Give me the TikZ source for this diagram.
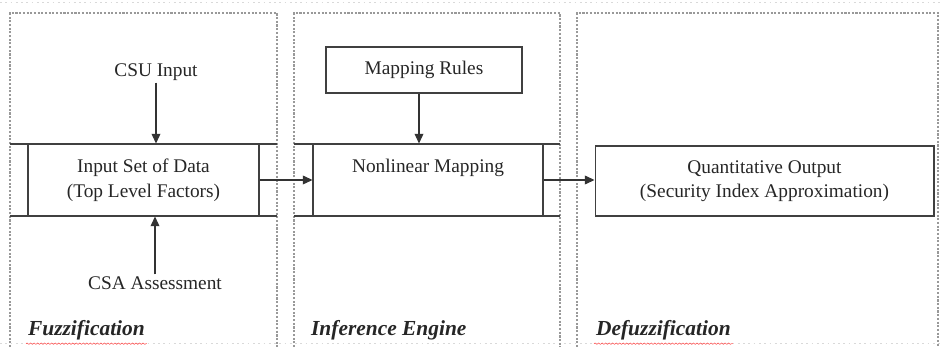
\documentclass[tikz,border=0pt]{standalone}
\usepackage{fontspec}
\setmainfont{Liberation Serif}
\usepackage{tikz}
\usetikzlibrary{arrows.meta, decorations.pathmorphing}
\tikzset{
  panel/.style = {gray!80, line width=0.7pt, dash pattern=on 1.2pt off 0.9pt},
  faint/.style = {gray!30, line width=0.5pt, dash pattern=on 1pt off 2pt},
  flow/.style = {draw=black!80, line width=0.6pt, -{Triangle[length=5.5pt, width=5pt]}},
  procbox/.style = {draw=black!75, line width=0.6pt, rectangle, align=center, inner sep=0pt},
  plain/.style = {align=center, inner sep=1pt},
  stage/.style = {anchor=west, inner sep=1pt, font=\fontsize{12.2}{14}\selectfont\bfseries\itshape},
  squiggle/.style = {red!70, line width=0.3pt, decorate, decoration={snake, amplitude=0.4pt, segment length=2pt}}
}

\begin{document}
\begin{tikzpicture}[x=0.02cm, y=-0.02cm, font=\fontsize{11}{14}\selectfont, text=black!85]
\useasboundingbox (0,0) rectangle (940,347);

% panels
\draw[faint] (0,2) -- (940,2);
\draw[faint] (0,343) -- (940,343);
\draw[panel] (10,347) -- (10,13) -- (277,13) -- (277,347);
\draw[panel] (294,347) -- (294,13) -- (560,13) -- (560,347);
\draw[panel] (577,347) -- (577,13) -- (938,13) -- (938,347);

% fuzzification
\node[plain] (csu) at (156,72) {CSU Input};
\node[procbox, minimum width=4.62cm, minimum height=1.44cm] (inset) at (143.5,180)
  {Input Set of Data\\(Top Level Factors)};
\draw[black!75, line width=0.6pt] (10,144) -- (277,144) (10,216) -- (277,216);
\node[plain] (csa) at (155,283) {CSA Assessment};
\node[stage] (fuzz) at (26,330) {Fuzzification};

% inference engine
\node[procbox, minimum width=3.92cm, minimum height=0.92cm] (rules) at (424,70) {Mapping Rules};
\node[procbox, minimum width=4.6cm, minimum height=1.44cm] (nonlin) at (428,180)
  {Nonlinear Mapping\\[2pt]\mbox{}};
\draw[black!75, line width=0.6pt] (294,144) -- (560,144) (294,216) -- (560,216);
\node[stage] (infer) at (309,330) {Inference Engine};

% defuzzification
\node[procbox, minimum width=6.78cm, minimum height=1.4cm] (quant) at (764.5,181)
  {Quantitative Output\\(Security Index Approximation)};
\node[stage] (defuzz) at (594,330) {Defuzzification};

% spell-check marks
\draw[squiggle] ([yshift=-1pt]fuzz.south west) -- ([yshift=-1pt]fuzz.south east);
\draw[squiggle] ([yshift=-1pt]defuzz.south west) -- ([yshift=-1pt]defuzz.south east);

% connectors
\draw[flow] (csu.south) -- (csu.south |- inset.north);
\draw[flow] (csa.north) -- (csa.north |- inset.south);
\draw[flow] ([xshift=-0.1cm]rules.south) -- ([xshift=-0.1cm]rules.south |- nonlin.north);
\draw[flow] (inset.east) -- (nonlin.west);
\draw[flow] (nonlin.east) -- (nonlin.east -| quant.west);
\end{tikzpicture}
\end{document}
